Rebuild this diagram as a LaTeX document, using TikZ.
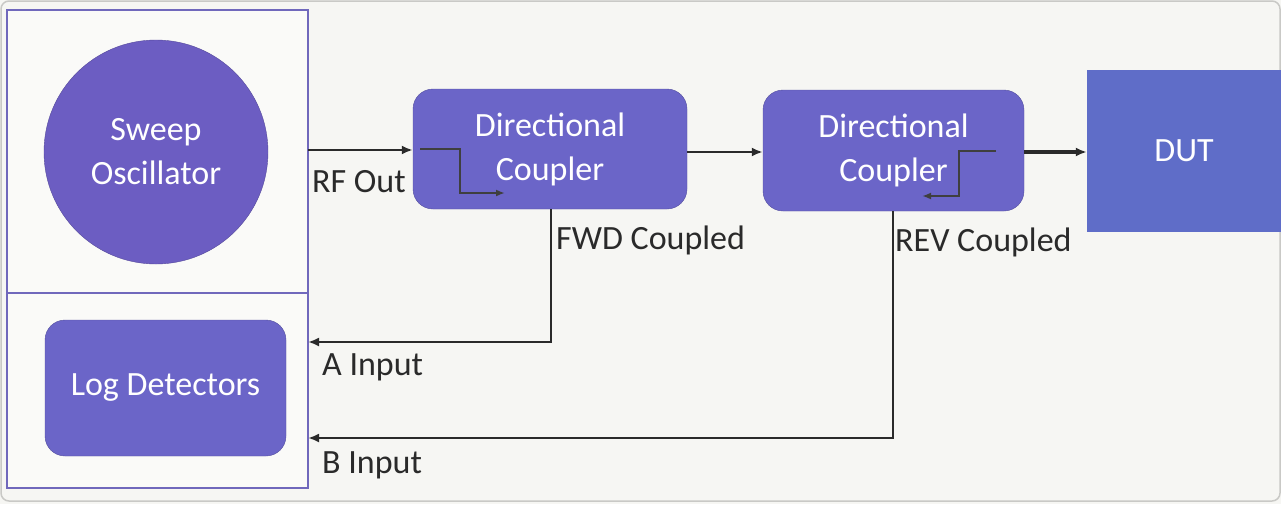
\documentclass[tikz,border=0pt]{standalone}
\usepackage{fontspec}
\setmainfont{Carlito}
\usepackage{xcolor}
\definecolor{bgpage}{HTML}{F6F6F3}
\definecolor{frame}{HTML}{C9C9C6}
\definecolor{panel}{HTML}{7068BC}
\definecolor{oscfill}{HTML}{6C5DC2}
\definecolor{blockfill}{HTML}{6B65C8}
\definecolor{dutfill}{HTML}{5F6DC8}
\definecolor{wire}{HTML}{2A2A2A}
\usetikzlibrary{arrows.meta, positioning, calc}

\begin{document}
\begin{tikzpicture}[
  x=1pt, y=-1pt,
  font=\fontsize{34}{44}\selectfont,
  block/.style={draw=blockfill!80!black, fill=blockfill, text=white, rounded corners=20pt, align=center, inner sep=0pt},
  lbl/.style={text=wire, anchor=west, inner sep=0pt},
  sig/.style={draw=wire, line width=2.8pt, -{Latex[length=11pt, width=9pt]}},
  inner/.style={draw=wire!90, line width=1.8pt, -{Latex[length=9pt, width=7pt]}},
]

% page and frame
\fill[bgpage] (0,0) rectangle (1281,504);
\draw[frame, line width=1.5pt, rounded corners=8pt] (1,1) rectangle (1280,501);

% instrument panels
\draw[panel, line width=1.2pt, fill=bgpage!60!white] (7,10) rectangle (308,293);
\draw[panel, line width=1.2pt, fill=bgpage!60!white] (7,293) rectangle (308,488);
\coordinate (rfport) at (308,150);
\coordinate (aport) at (308,342);
\coordinate (bport) at (308,438);

% blocks
\node[circle, fill=oscfill, draw=oscfill!80!black, text=white, minimum size=224pt, align=center, inner sep=0pt] (osc) at (156,152) {Sweep\\Oscillator};
\node[block, minimum width=241pt, minimum height=136pt] (logdet) at (165.5,388) {Log Detectors};
\node[block, minimum width=274pt, minimum height=120pt] (dcfwd) at (550,149) {Directional\\Coupler};
\node[block, minimum width=261pt, minimum height=121pt] (dcrev) at (893.5,150.5) {Directional\\Coupler};
\node[fill=dutfill, text=white, minimum width=194pt, minimum height=162pt, inner sep=0pt] (dut) at (1184,151) {DUT};

% main line
\draw[sig] (rfport) -- (rfport -| dcfwd.west);
\draw[sig] (dcfwd.east |- 0,152) -- (dcrev.west |- 0,152);
\draw[sig, line width=3.4pt] (dcrev.east |- 0,152) -- (dut.west |- 0,152);

% coupled arms inside the couplers
\coordinate (fwdin) at (420,149);
\coordinate (fwdbend) at (460,149);
\coordinate (fwdout) at (505,193);
\draw[inner] (fwdin) -- (fwdbend) |- (fwdout);
\coordinate (revin) at (996,151);
\coordinate (revbend) at (959,151);
\coordinate (revout) at (922,196);
\draw[inner] (revin) -- (revbend) |- (revout);

% coupled outputs back to the detectors
\draw[sig] (dcfwd.south -| 551,0) |- (aport);
\draw[sig] (dcrev.south -| 893,0) |- (bport);

% labels
\node[lbl] (rflbl) at (312,182) {RF Out};
\node[lbl] (fwdlbl) at (556,240) {FWD Coupled};
\node[lbl] (revlbl) at (895,242) {REV Coupled};
\node[lbl] (albl) at (322,367) {A Input};
\node[lbl] (blbl) at (322,465) {B Input};

\end{tikzpicture}
\end{document}
